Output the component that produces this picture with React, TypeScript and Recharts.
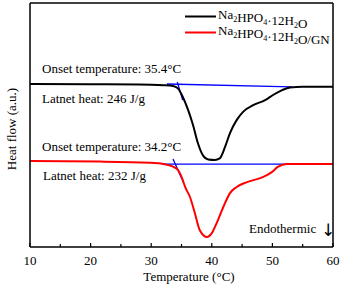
import React from 'react';
import { LineChart, Line, XAxis, YAxis } from 'recharts';

// pure Na2HPO4·12H2O DSC curve (temperature °C, heat flow a.u.)
const pureTemp = [10, 20, 28, 30, 32, 33.6, 34.4, 35.2, 36.1, 36.9, 37.7, 38.5, 39.4, 40.5, 41.3, 42.2, 43, 44.1, 45.2, 46.9, 48.8, 50.1, 51.6, 52.9, 55, 60];
const pureFlow = [66.8, 66.7, 66.6, 66.5, 66.3, 66.0, 65.0, 61.6, 56.1, 50.0, 42.6, 37.7, 35.9, 35.7, 36.3, 41.1, 46.7, 52.0, 55.5, 58.2, 60.2, 62.3, 64.3, 65.4, 65.7, 65.7];

// Na2HPO4·12H2O/GN composite
const gnTemp = [10, 21.6, 29.8, 32, 33.6, 34.4, 35.2, 35.6, 36.4, 37.2, 38.0, 39.2, 40, 40.8, 41.9, 43, 44.1, 45.8, 48.5, 49.9, 50.9, 52.4, 55, 60];
const gnFlow = [35.2, 35.0, 34.5, 34.0, 32.9, 31.6, 27.5, 24.6, 20.5, 13.9, 7.0, 4.1, 5.7, 9.8, 16.4, 22.1, 24.6, 26.6, 28.7, 30.7, 32.8, 34.0, 34.0, 34.0];

// blue construction lines (baseline + onset tangent)
const pureBase = [[32.6, 66.8], [53.2, 65.6]];
const pureTangent = [[34.3, 67.6], [35.2, 60.2]];
const gnBase = [[31.8, 34.0], [52.9, 34.0]];
const gnTangent = [[33.6, 36.1], [35.3, 26.6]];

const xTicks = [10, 15, 20, 25, 30, 35, 40, 45, 50, 55, 60];

const toPts = (xs: number[], ys: number[]) => xs.map((t, i) => ({ t, v: ys[i] }));
const segPts = (s: number[][]) => s.map(([t, v]) => ({ t, v }));

const FONT = '"Liberation Serif", "Times New Roman", serif';

const XTick = ({ x, y, payload }: any) => {
  const major = payload.value % 10 === 0;
  return (
    <g>
      <line x1={x} x2={x} y1={y} y2={y - (major ? 4 : 3)} stroke="#000" strokeWidth={1.2} />
      {major && (
        <text x={x} y={y + 18} textAnchor="middle" fontSize={13} style={{ fontFamily: FONT }} fill="#000">
          {payload.value}
        </text>
      )}
    </g>
  );
};

const Formula = ({ x, y, suffix }: { x: number; y: number; suffix?: string }) => {
  const sub = (s: string) => (
    <>
      <tspan dy={3} fontSize={8}>{s}</tspan>
      <tspan dy={-3}>{''}</tspan>
    </>
  );
  return (
    <text x={x} y={y} fontSize={13} style={{ fontFamily: FONT }} fill="#000">
      Na{sub('2')}HPO{sub('4')}·12H{sub('2')}O{suffix || ''}
    </text>
  );
};

export default function App() {
  const axisProps = { stroke: '#000', strokeWidth: 1.5, tick: false as const, tickLine: false };
  return (
    <div style={{ position: 'absolute', left: 0, top: 0, width: 344, height: 285, background: '#fff' }}>
      <LineChart width={344} height={285} margin={{ top: 2, right: 10, left: 29, bottom: 37 }}>
        <XAxis
          type="number"
          dataKey="t"
          domain={[10, 60]}
          ticks={xTicks}
          tick={<XTick />}
          tickSize={0}
          tickMargin={0}
          tickLine={false}
          height={1}
          stroke="#000"
          strokeWidth={1.5}
          allowDataOverflow
        />
        <XAxis xAxisId="top" orientation="top" type="number" domain={[10, 60]} ticks={xTicks} height={1} {...axisProps} />
        <YAxis type="number" domain={[0, 100]} width={1} {...axisProps} />
        <YAxis yAxisId="right" orientation="right" type="number" domain={[0, 100]} width={1} {...axisProps} />
        <Line data={segPts(pureBase)} dataKey="v" type="linear" stroke="#0000ff" strokeWidth={1.3} dot={false} isAnimationActive={false} />
        <Line data={segPts(pureTangent)} dataKey="v" type="linear" stroke="#0000ff" strokeWidth={1.3} dot={false} isAnimationActive={false} />
        <Line data={segPts(gnBase)} dataKey="v" type="linear" stroke="#0000ff" strokeWidth={1.3} dot={false} isAnimationActive={false} />
        <Line data={segPts(gnTangent)} dataKey="v" type="linear" stroke="#0000ff" strokeWidth={1.3} dot={false} isAnimationActive={false} />
        <Line data={toPts(pureTemp, pureFlow)} dataKey="v" type="monotone" stroke="#000" strokeWidth={2} dot={false} isAnimationActive={false} />
        <Line data={toPts(gnTemp, gnFlow)} dataKey="v" type="monotone" stroke="#ff0000" strokeWidth={2} dot={false} isAnimationActive={false} />
      </LineChart>
      <svg width={344} height={285} style={{ position: 'absolute', left: 0, top: 0, pointerEvents: 'none' }}>
        <line x1={185} x2={216} y1={16.5} y2={16.5} stroke="#000" strokeWidth={2} />
        <Formula x={218} y={19} />
        <line x1={185} x2={216} y1={32.5} y2={32.5} stroke="#ff0000" strokeWidth={2} />
        <Formula x={218} y={35} suffix="/GN" />
        <g fontSize={13} style={{ fontFamily: FONT }} fill="#000">
          <text x={42} y={73}>Onset temperature: 35.4°C</text>
          <text x={42} y={103}>Latnet heat: 246 J/g</text>
          <text x={42} y={151}>Onset temperature: 34.2°C</text>
          <text x={43} y={180}>Latnet heat: 232 J/g</text>
          <text x={249} y={233}>Endothermic</text>
          <text x={189} y={281} textAnchor="middle">Temperature (°C)</text>
          <text x={16} y={129} textAnchor="middle" transform="rotate(-90 16 129)">Heat flow (a.u.)</text>
        </g>
        <text x={328} y={236} textAnchor="middle" fontSize={17} style={{ fontFamily: '"DejaVu Sans", sans-serif' }} fill="#000">↓</text>
      </svg>
    </div>
  );
}
